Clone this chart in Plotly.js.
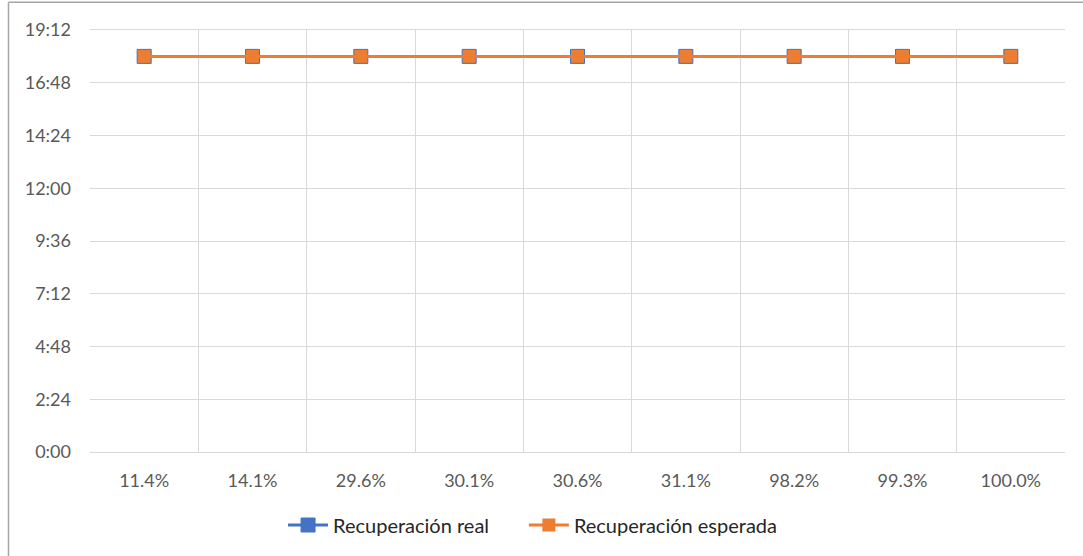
<!DOCTYPE html>
<html>
<head>
<meta charset="utf-8">
<script src="https://cdn.plot.ly/plotly-3.0.1.min.js"></script>
<style>html,body{margin:0;padding:0;background:#fff;}#chart{width:1083px;height:556px;}</style>
</head>
<body>
<div id="chart"></div>
<script>
// Data
const categories = ["11.4%", "14.1%", "29.6%", "30.1%", "30.6%", "31.1%", "98.2%", "99.3%", "100.0%"];
// values in minutes (18:00)
const realValues = [1080, 1080, 1080, 1080, 1080, 1080, 1080, 1080, 1080];
const expectedValues = [1080, 1080, 1080, 1080, 1080, 1080, 1080, 1080, 1080];
const yTickVals = [0, 144, 288, 432, 576, 720, 864, 1008, 1152];
const yTickText = ["0:00", "2:24", "4:48", "7:12", "9:36", "12:00", "14:24", "16:48", "19:12"];
const seriesNames = ["Recuperación real", "Recuperación esperada"];

const font = "Lato, 'Open Sans', sans-serif";

const traces = [
  {
    x: categories, y: realValues, name: seriesNames[0], type: "scatter", mode: "lines+markers",
    legend: "legend",
    line: {color: "#4472C4", width: 3},
    marker: {symbol: "square", size: 14, color: "#4472C4", line: {color: "#4472C4", width: 1}}
  },
  {
    x: categories, y: expectedValues, name: seriesNames[1], type: "scatter", mode: "lines+markers",
    legend: "legend2",
    line: {color: "#ED7D31", width: 3},
    marker: {symbol: "square", size: 13, color: "#ED7D31", line: {width: 0}}
  }
];

const legendBase = {
  orientation: "h", xanchor: "left", y: -0.173, yanchor: "middle",
  font: {family: font, size: 20, color: "#262626"},
  itemwidth: 40, bgcolor: "rgba(0,0,0,0)"
};

const layout = {
  width: 1083, height: 556,
  margin: {l: 90, r: 18, t: 30, b: 104, autoexpand: false},
  paper_bgcolor: "#ffffff", plot_bgcolor: "#ffffff",
  font: {family: font, size: 18, color: "#595959"},
  showlegend: true,
  legend: Object.assign({}, legendBase, {x: 0.198}),
  legend2: Object.assign({}, legendBase, {x: 0.445}),
  xaxis: {
    type: "category", automargin: false,
    range: [-0.5, categories.length - 0.5], autorange: false,
    tickson: "boundaries",
    showgrid: true, gridcolor: "#d9d9d9", gridwidth: 1,
    showline: true, linecolor: "#d9d9d9", linewidth: 1, mirror: true,
    ticks: "", ticklabelstandoff: 12,
    tickfont: {family: font, size: 18, color: "#595959"},
    zeroline: false, fixedrange: true
  },
  yaxis: {
    range: [0, 1152], autorange: false, automargin: false,
    tickmode: "array", tickvals: yTickVals, ticktext: yTickText,
    showgrid: true, gridcolor: "#d9d9d9", gridwidth: 1,
    showline: false, zeroline: false,
    ticks: "", ticklabelstandoff: 18,
    tickfont: {family: font, size: 18, color: "#595959"},
    fixedrange: true
  },
  shapes: [
    {type: "line", xref: "paper", yref: "paper", x0: -0.0836, x1: -0.0836, y0: 1.066, y1: -0.26, line: {color: "#a6a6a6", width: 1.5}},
    {type: "line", xref: "paper", yref: "paper", x0: -0.0836, x1: 1.03, y0: 1.066, y1: 1.066, line: {color: "#a6a6a6", width: 1.5}}
  ]
};

Plotly.newPlot("chart", traces, layout, {displayModeBar: false, staticPlot: true});
</script>
</body>
</html>
